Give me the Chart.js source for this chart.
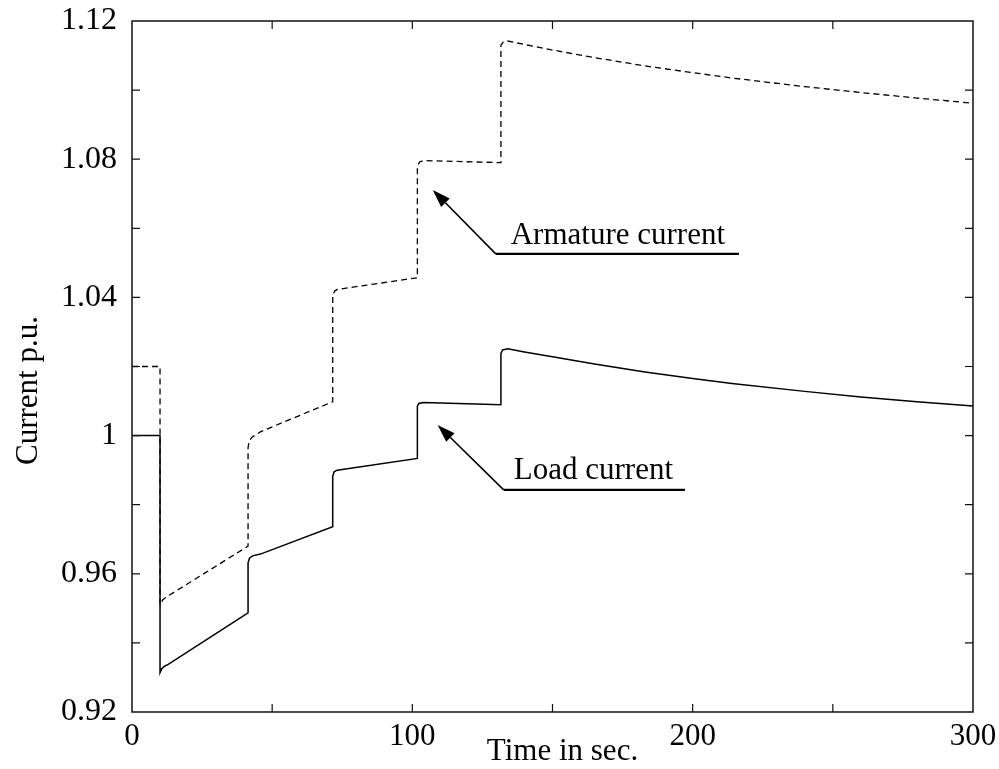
<!DOCTYPE html>
<html>
<head>
<meta charset="utf-8">
<script src="https://cdn.jsdelivr.net/npm/chart.js@4.4.1/dist/chart.umd.min.js"></script>
<style>
  html, body { margin: 0; padding: 0; background: #ffffff; }
  #wrap { width: 999px; height: 769px; }
</style>
</head>
<body>
<div id="wrap"><canvas id="c" width="999" height="769"></canvas></div>
<script>
// ---- Data ----
const armTime  = [0, 10, 10, 11, 12.5, 41.4, 41.4, 41.8, 42.8, 45.8, 71.6, 71.6, 72.4, 73.2, 101.8, 101.8, 102.6, 104, 131.6, 131.6, 132.4, 134, 140, 150, 165, 183, 196, 214, 240, 260, 280, 300];
const armValue = [1.02, 1.02, 0.951, 0.9525, 0.9534, 0.968, 0.9965, 0.9985, 0.9995, 1.0011, 1.0098, 1.0408, 1.0419, 1.0423, 1.0457, 1.0780, 1.0792, 1.0796, 1.0790, 1.1130, 1.1139, 1.1142, 1.1132, 1.1116, 1.1094, 1.1070, 1.1055, 1.1035, 1.1010, 1.0993, 1.0977, 1.0962];

const loadTime  = [0, 10, 10, 10.6, 11.5, 12.5, 41.4, 41.4, 41.9, 43, 45.8, 71.6, 71.6, 72.1, 73.2, 101.8, 101.8, 102.3, 104, 131.6, 131.6, 132.2, 134, 140, 150, 165, 183, 200, 214, 240, 260, 280, 300];
const loadValue = [1.0, 1.0, 0.9314, 0.9325, 0.9332, 0.9336, 0.9487, 0.9632, 0.9645, 0.9652, 0.9657, 0.9736, 0.9882, 0.9895, 0.9900, 0.9934, 1.0085, 1.0093, 1.0096, 1.0089, 1.0238, 1.0248, 1.0251, 1.0242, 1.0228, 1.0207, 1.0184, 1.0165, 1.0151, 1.0128, 1.0112, 1.0098, 1.0086];

const xTickLabels = ['0', '100', '200', '300'];
const yTickLabels = ['0.92', '0.96', '1', '1.04', '1.08', '1.12'];

const seriesNames = ['Armature current', 'Load current'];
const xTitle = 'Time in sec.';
const yTitle = 'Current p.u.';

// annotation anchors in data coordinates: [tipT, tipV, startT, startV, underlineEndT, textT, textV]
const armNote  = [107.3, 1.0711, 129.75, 1.0526, 216.5, 135.1, 1.0555];
const loadNote = [109.0, 1.0031, 132.6, 0.9843, 197.25, 136.2, 0.9874];

// ---- Build ----
const toPts = (ts, vs) => ts.map((t, i) => ({ x: t, y: vs[i] }));
const FONT = "'Liberation Serif', 'Times New Roman', Times, serif";

const framePlugin = {
  id: 'frame',
  afterDatasetsDraw(chart) {
    const { ctx, chartArea: a, scales } = chart;
    const xs = scales.x, ys = scales.y;
    ctx.save();
    ctx.strokeStyle = '#111';
    ctx.lineWidth = 1.5;
    ctx.strokeRect(a.left, a.top, a.right - a.left, a.bottom - a.top);
    ctx.lineWidth = 1.2;
    const tl = 8;
    ctx.beginPath();
    xs.ticks.forEach(t => {
      const px = xs.getPixelForValue(t.value);
      if (px <= a.left + 1 || px >= a.right - 1) return;
      ctx.moveTo(px, a.bottom); ctx.lineTo(px, a.bottom - tl);
      ctx.moveTo(px, a.top); ctx.lineTo(px, a.top + tl);
    });
    ys.ticks.forEach(t => {
      const py = ys.getPixelForValue(t.value);
      if (py <= a.top + 1 || py >= a.bottom - 1) return;
      ctx.moveTo(a.left, py); ctx.lineTo(a.left + tl, py);
      ctx.moveTo(a.right, py); ctx.lineTo(a.right - tl, py);
    });
    ctx.stroke();

    // annotations
    ctx.fillStyle = '#000';
    ctx.strokeStyle = '#000';
    ctx.font = '31px ' + FONT;
    ctx.textAlign = 'left';
    ctx.textBaseline = 'alphabetic';
    const drawNote = (n, label) => {
      const tx = xs.getPixelForValue(n[0]), ty = ys.getPixelForValue(n[1]);
      const sx = xs.getPixelForValue(n[2]), sy = ys.getPixelForValue(n[3]);
      const ex = xs.getPixelForValue(n[4]);
      ctx.lineWidth = 2.2;
      ctx.beginPath(); ctx.moveTo(sx, sy); ctx.lineTo(ex, sy); ctx.stroke();
      const ang = Math.atan2(ty - sy, tx - sx);
      const hl = 18, hw = 6;
      const bx = tx - hl * Math.cos(ang), by = ty - hl * Math.sin(ang);
      ctx.lineWidth = 1.6;
      ctx.beginPath(); ctx.moveTo(sx, sy); ctx.lineTo(bx, by); ctx.stroke();
      ctx.beginPath();
      ctx.moveTo(tx, ty);
      ctx.lineTo(bx + hw * Math.sin(ang), by - hw * Math.cos(ang));
      ctx.lineTo(bx - hw * Math.sin(ang), by + hw * Math.cos(ang));
      ctx.closePath(); ctx.fill();
      ctx.fillText(label, xs.getPixelForValue(n[5]), ys.getPixelForValue(n[6]));
    };
    drawNote(armNote, seriesNames[0]);
    drawNote(loadNote, seriesNames[1]);

    // axis titles
    ctx.textAlign = 'center';
    ctx.fillText(xTitle, (a.left + a.right) / 2 + 10, 760);
    ctx.save();
    ctx.translate(37, (a.top + a.bottom) / 2 + 24);
    ctx.rotate(-Math.PI / 2);
    ctx.fillText(yTitle, 0, 0);
    ctx.restore();
    ctx.restore();
  }
};

Chart.defaults.font.family = FONT;
Chart.defaults.font.size = 31;
Chart.defaults.color = '#000';

new Chart(document.getElementById('c'), {
  type: 'scatter',
  data: {
    datasets: [
      {
        label: seriesNames[0],
        data: toPts(armTime, armValue),
        showLine: true,
        borderColor: '#000',
        borderWidth: 1.3,
        borderDash: [6, 4],
        pointRadius: 0,
        tension: 0,
        fill: false
      },
      {
        label: seriesNames[1],
        data: toPts(loadTime, loadValue),
        showLine: true,
        borderColor: '#000',
        borderWidth: 1.5,
        pointRadius: 0,
        tension: 0,
        fill: false
      }
    ]
  },
  options: {
    responsive: false,
    animation: false,
    devicePixelRatio: 1,
    layout: { padding: { left: 0, top: 21, right: 26, bottom: 0 } },
    plugins: { legend: { display: false }, tooltip: { enabled: false } },
    scales: {
      x: {
        type: 'linear',
        min: 0, max: 300,
        afterFit(s) { s.height = 57; s.paddingLeft = 0; s.paddingRight = 0; },
        grid: { display: false, drawTicks: false },
        border: { display: false },
        ticks: {
          stepSize: 50,
          padding: 6,
          maxRotation: 0,
          autoSkip: false,
          callback(v) {
            const i = xTickLabels.indexOf(String(Math.round(v)));
            return i >= 0 ? xTickLabels[i] : '';
          }
        }
      },
      y: {
        type: 'linear',
        min: 0.92, max: 1.12,
        afterFit(s) { s.width = 132; s.paddingTop = 0; s.paddingBottom = 0; },
        grid: { display: false, drawTicks: false },
        border: { display: false },
        ticks: {
          stepSize: 0.02,
          padding: 15,
          autoSkip: false,
          font: { size: 32 },
          callback(v) {
            const s = String(Number(v.toFixed(2)));
            return yTickLabels.includes(s) ? s : '';
          }
        }
      }
    }
  },
  plugins: [framePlugin]
});
</script>
</body>
</html>
